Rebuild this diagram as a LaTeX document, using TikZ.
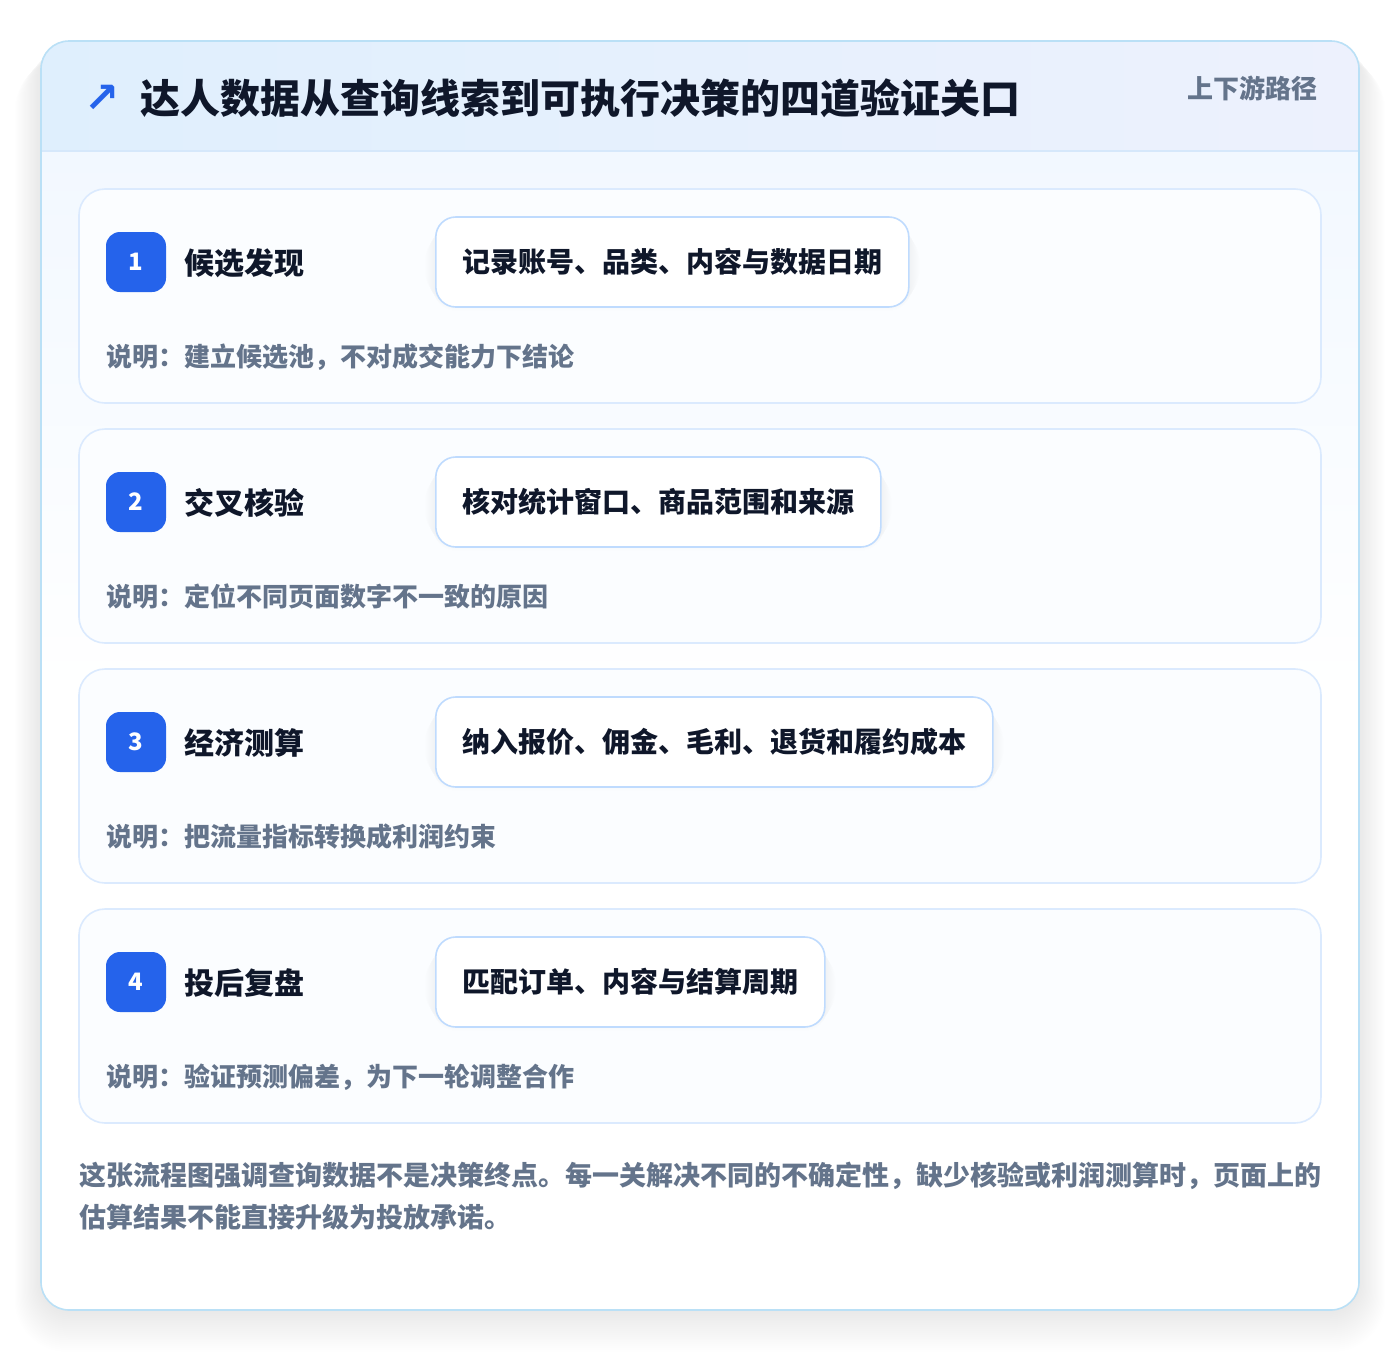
\documentclass[tikz,border=0pt]{standalone}
\usepackage{fontspec}
\setmainfont{Noto Sans CJK SC}
\newfontfamily\symfont{DejaVu Sans}
\definecolor{bluebadge}{HTML}{2563EB}
\definecolor{darktext}{HTML}{0F172A}
\definecolor{graytext}{HTML}{64748B}
\definecolor{cardborder}{HTML}{BAE0F6}
\definecolor{stepborder}{HTML}{DBEAFE}
\definecolor{pillborder}{HTML}{BFDBFE}
\definecolor{headleft}{HTML}{DFEFFD}
\definecolor{headright}{HTML}{EDF1FD}
\definecolor{headline}{HTML}{D6E8FB}
\definecolor{bodytop}{HTML}{F2F8FF}
\definecolor{stepfill}{HTML}{FBFDFF}
\pgfdeclarelayer{bg}
\pgfdeclarelayer{shad}
\pgfsetlayers{bg,shad,main}
\tikzset{
  cjkbox/.style={inner sep=0pt, anchor=base west},
  badgebox/.style={fill=bluebadge, rounded corners=14pt, minimum width=60pt, minimum height=60pt, inner sep=0pt, text=white, font=\bfseries\fontsize{24}{24}\selectfont},
  pillbox/.style={draw=pillborder, line width=1.6pt, fill=white, rounded corners=20pt, minimum height=90pt, inner xsep=26.5pt, inner ysep=0pt, text height=24.64pt, text depth=3.36pt, text=darktext, font=\bfseries\fontsize{28}{28}\selectfont},
  steptitle/.style={cjkbox, text=darktext, font=\bfseries\fontsize{30}{30}\selectfont},
  stepdesc/.style={cjkbox, text=graytext, font=\bfseries\fontsize{26}{26}\selectfont},
  foottext/.style={cjkbox, text=graytext, font=\bfseries\fontsize{27}{27}\selectfont},
}
\begin{document}
\begin{tikzpicture}[x=1pt,y=-1pt]
\useasboundingbox (0,0) rectangle (1400,1352);
\begin{pgfonlayer}{bg}
\fill[white] (0,0) rectangle (1400,1352);
% outer card shadow
\foreach \k in {1,...,22}{
  \fill[black, opacity=0.004, rounded corners=30pt+\k pt] (41-\k*1.2,41+\k*0.8) rectangle (1359+\k*1.2,1310+\k*1.9);
}
% outer card
\path[fill=white, rounded corners=28pt] (41,41) rectangle (1359,1310);
\begin{scope}
  \clip[rounded corners=28pt] (41,41) rectangle (1359,1310);
  \shade[top color=bodytop, bottom color=white] (41,151) rectangle (1359,700);
  \shade[left color=headleft, right color=headright] (41,41) rectangle (1359,151);
  \draw[headline, line width=1.5pt] (41,151) -- (1359,151);
\end{scope}
\draw[cardborder, line width=1.6pt, rounded corners=28pt] (41,41) rectangle (1359,1310);
\end{pgfonlayer}
% header
\node[inner sep=0pt, text=bluebadge, font=\symfont\bfseries\fontsize{42}{42}\selectfont] (arrow) at (102,99) {↗};
\node[cjkbox, text=darktext, font=\bfseries\fontsize{40}{40}\selectfont] (title) at (140,113.2) {达人数据从查询线索到可执行决策的四道验证关口};
\node[inner sep=0pt, anchor=base east, text=graytext, font=\bfseries\fontsize{26}{26}\selectfont] (tag) at (1318,98.9) {上下游路径};
% steps
\foreach \i/\n/\t/\p/\d in {
  0/1/候选发现/记录账号、品类、内容与数据日期/说明：建立候选池，不对成交能力下结论,
  1/2/交叉核验/核对统计窗口、商品范围和来源/说明：定位不同页面数字不一致的原因,
  2/3/经济测算/纳入报价、佣金、毛利、退货和履约成本/说明：把流量指标转换成利润约束,
  3/4/投后复盘/匹配订单、内容与结算周期/说明：验证预测偏差，为下一轮调整合作}{
  \pgfmathsetmacro{\yt}{189+240*\i}
  \begin{pgfonlayer}{bg}
  \path[draw=stepborder, line width=1.6pt, fill=stepfill, rounded corners=26pt] (79,\yt) rectangle (1321,\yt+214);
  \end{pgfonlayer}
  \node[inner sep=0pt, minimum width=1242pt, minimum height=214pt, anchor=north west] (card\n) at (79,\yt) {};
  \node[badgebox] (badge\n) at (136,\yt+73) {\n};
  \node[steptitle] (title\n) at (184,\yt+85.4) {\t};
  \node[pillbox, anchor=west] (pill\n) at (435,\yt+73) {\p};
  \begin{pgfonlayer}{shad}
  \foreach \s in {1,...,10}{
    \fill[black!70!blue, opacity=0.005, rounded corners=20pt+\s pt] ([xshift=-\s pt, yshift=-\s pt-4pt]pill\n.north west) rectangle ([xshift=\s pt, yshift=\s pt-4pt]pill\n.south east);
  }
  \end{pgfonlayer}
  \node[stepdesc] (desc\n) at (106,\yt+177.9) {\d};
}
% footer
\node[foottext] (foot1) at (79,1185.3) {这张流程图强调查询数据不是决策终点。每一关解决不同的不确定性，缺少核验或利润测算时，页面上的};
\node[foottext] (foot2) at (79,1227.3) {估算结果不能直接升级为投放承诺。};
\end{tikzpicture}
\end{document}
